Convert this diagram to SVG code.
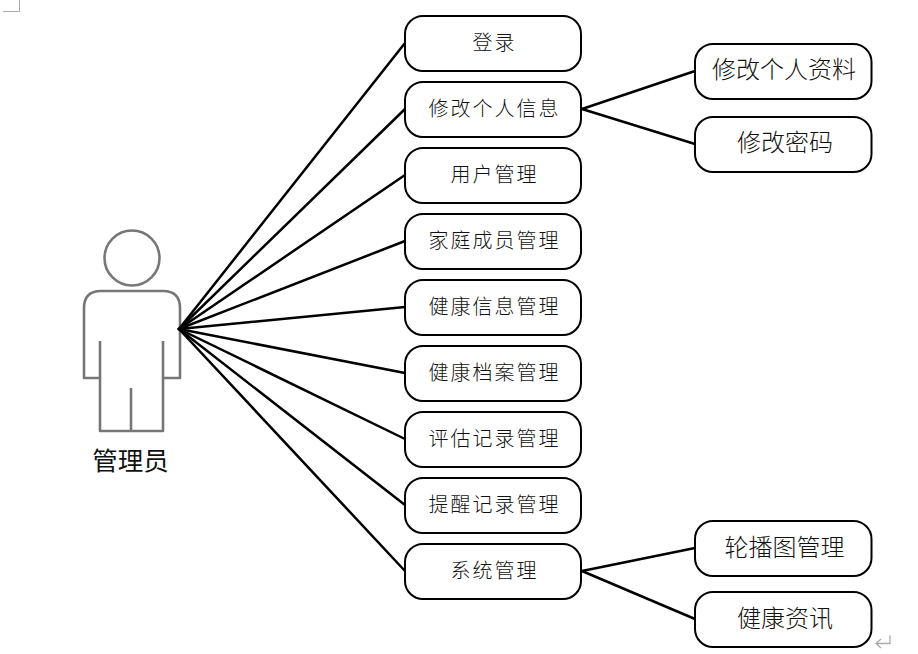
<svg xmlns="http://www.w3.org/2000/svg" width="918" height="654" viewBox="0 0 918 654">
<style>
.n rect{fill:#fff;stroke:#000;stroke-width:2}
.n text{font-family:"Noto Sans CJK SC","Noto Sans",sans-serif;text-anchor:middle;fill:#111;font-weight:300}
.s text{font-size:20px;letter-spacing:2px}
.b text{font-size:24px}
#connectors line{stroke:#000;stroke-width:2.500;stroke-linecap:round}
.fig{fill:none;stroke:#777;stroke-width:2.600;stroke-linejoin:round;filter:url(#soft)}
.mark{fill:none;stroke:#aaa;stroke-width:1}
</style>
<defs><filter id="soft" x="-10%" y="-10%" width="120%" height="120%"><feGaussianBlur stdDeviation="0.5"/></filter></defs>
<rect width="918" height="654" fill="#fff"/>
<path class="mark" d="M3 11.500H19.500V0"/>
<path class="mark" d="M890 635.500V643.500H876M881 639L876 643.500L881 648" style="stroke-width:1.300"/>
<g id="actor">
<circle class="fig" cx="132" cy="258" r="27.500"/>
<path class="fig" d="M100 378H84V308Q84 291 101 291H163Q180 291 180 308V378H163M100 341V431H163V341M131 388V431"/>
<text x="130.500" y="470" text-anchor="middle" font-family="'Noto Sans CJK SC',sans-serif" font-size="25.500" fill="#111">管理员</text>
</g>
<g id="connectors">
<line x1="179" y1="329" x2="405" y2="43"/>
<line x1="179" y1="329" x2="405" y2="109"/>
<line x1="179" y1="329" x2="405" y2="175"/>
<line x1="179" y1="329" x2="405" y2="241"/>
<line x1="179" y1="329" x2="405" y2="307"/>
<line x1="179" y1="329" x2="405" y2="373"/>
<line x1="179" y1="329" x2="405" y2="439"/>
<line x1="179" y1="329" x2="405" y2="505"/>
<line x1="179" y1="329" x2="405" y2="571"/>
<line x1="582" y1="109" x2="695" y2="71"/>
<line x1="582" y1="109" x2="695" y2="144"/>
<line x1="582" y1="571" x2="695" y2="548"/>
<line x1="582" y1="571" x2="695" y2="619"/>
</g>
<g id="n1" class="n s"><rect x="405" y="16" width="176" height="55" rx="18"/><text x="494.500" y="50">登录</text></g>
<g id="n2" class="n s"><rect x="405" y="82" width="176" height="55" rx="18"/><text x="494.500" y="116">修改个人信息</text></g>
<g id="n3" class="n s"><rect x="405" y="148" width="176" height="55" rx="18"/><text x="494.500" y="182">用户管理</text></g>
<g id="n4" class="n s"><rect x="405" y="214" width="176" height="55" rx="18"/><text x="494.500" y="248">家庭成员管理</text></g>
<g id="n5" class="n s"><rect x="405" y="280" width="176" height="55" rx="18"/><text x="494.500" y="314">健康信息管理</text></g>
<g id="n6" class="n s"><rect x="405" y="346" width="176" height="55" rx="18"/><text x="494.500" y="380">健康档案管理</text></g>
<g id="n7" class="n s"><rect x="405" y="412" width="176" height="55" rx="18"/><text x="494.500" y="446">评估记录管理</text></g>
<g id="n8" class="n s"><rect x="405" y="478" width="176" height="55" rx="18"/><text x="494.500" y="512">提醒记录管理</text></g>
<g id="n9" class="n s"><rect x="405" y="544" width="176" height="55" rx="18"/><text x="494.500" y="578">系统管理</text></g>
<g id="n10" class="n b"><rect x="695" y="44" width="176.500" height="55" rx="18"/><text x="784" y="78">修改个人资料</text></g>
<g id="n11" class="n b"><rect x="695" y="117" width="176.500" height="55" rx="18"/><text x="785" y="151">修改密码</text></g>
<g id="n12" class="n b"><rect x="695" y="521" width="176.500" height="55" rx="18"/><text x="784.500" y="556">轮播图管理</text></g>
<g id="n13" class="n b"><rect x="695" y="592" width="176.500" height="55" rx="18"/><text x="785" y="627">健康资讯</text></g>
</svg>
